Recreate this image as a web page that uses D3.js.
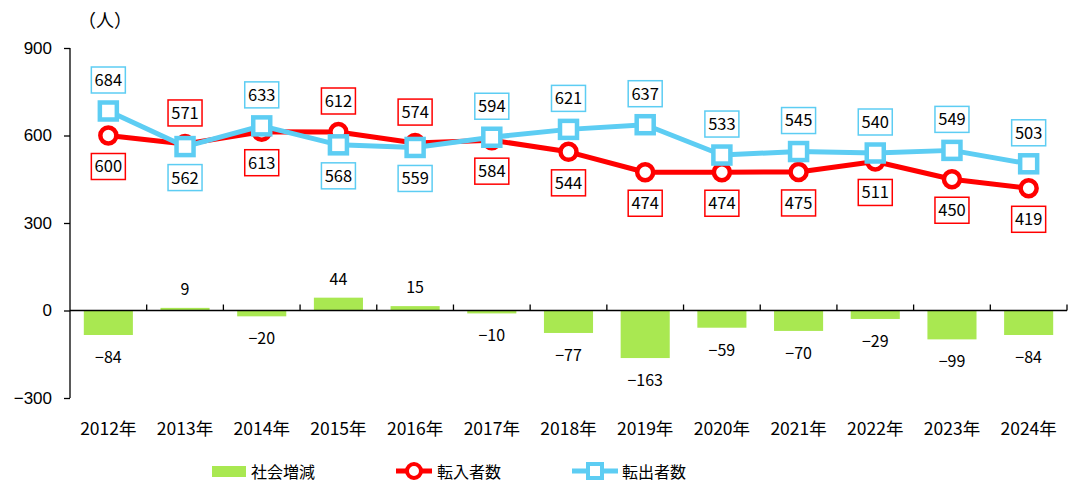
<!DOCTYPE html>
<html lang="ja">
<head>
<meta charset="UTF-8">
<title>社会増減</title>
<script src="https://cdn.jsdelivr.net/npm/d3@7"></script>
<style>
    body {margin: 0; background: #fff; overflow: hidden;}
    svg {display: block;}
    .jp {font-family: "Noto Sans CJK JP", "Noto Sans", sans-serif;}
</style>
</head>
<body>
<svg id="chart" width="1075" height="485"></svg>
<script>
    var years = ['2012年', '2013年', '2014年', '2015年', '2016年', '2017年', '2018年',
                 '2019年', '2020年', '2021年', '2022年', '2023年', '2024年'];
    var netChange = [-84, 9, -20, 44, 15, -10, -77, -163, -59, -70, -29, -99, -84];
    var movedIn = [600, 571, 613, 612, 574, 584, 544, 474, 474, 475, 511, 450, 419];
    var movedOut = [684, 562, 633, 568, 559, 594, 621, 637, 533, 545, 540, 549, 503];
    var yTicks = [900, 600, 300, 0, -300];

    var RED = '#ff0000', BLUE = '#5dcdf3', GREEN = '#a9e851';

    var svg = d3.select('#chart');
    var x = d3.scaleBand().domain(years).range([70, 1067]).paddingInner(0.36).paddingOuter(0.18);
    var xb = d3.scaleBand().domain(years).range([70, 1067]);
    var y = d3.scaleLinear().domain([-300, 900]).range([398, 48]);
    var cx = function(i) { return xb(years[i]) + xb.bandwidth() / 2; };

    // bars
    svg.append('g').selectAll('rect').data(netChange).enter().append('rect')
        .attr('x', function(d, i) { return x(years[i]); })
        .attr('width', x.bandwidth())
        .attr('y', function(d) { return y(Math.max(d, 0)); })
        .attr('height', function(d) { return Math.abs(y(d) - y(0)); })
        .attr('fill', GREEN);

    svg.append('g').attr('class', 'jp').selectAll('text').data(netChange).enter().append('text')
        .attr('x', function(d, i) { return cx(i); })
        .attr('y', function(d) { return d < 0 ? y(d) + 28 : y(d) - 13; })
        .attr('text-anchor', 'middle')
        .attr('font-size', 16)
        .attr('fill', '#000')
        .text(function(d) { return d < 0 ? '\u2212' + Math.abs(d) : d; });

    // y axis
    var yAxis = svg.append('g').attr('transform', 'translate(70,0)')
        .call(d3.axisLeft(y).tickValues(yTicks).tickSize(6).tickFormat(function(d) {
            return d < 0 ? '\u2212' + Math.abs(d) : d;
        }));
    yAxis.select('.domain').attr('stroke', '#000').attr('stroke-width', 1.3)
        .attr('d', 'M0,' + y(900) + 'V' + y(-300));
    yAxis.selectAll('.tick line').attr('stroke', '#000').attr('stroke-width', 1.3);
    yAxis.selectAll('.tick text').attr('x', -18).attr('font-size', 17)
        .attr('font-family', '"Liberation Sans", Arial, sans-serif').attr('fill', '#000');

    // zero line with category ticks
    var xAxis = svg.append('g').attr('transform', 'translate(0,' + y(0) + ')');
    xAxis.append('line').attr('x1', 70).attr('x2', 1067).attr('stroke', '#000').attr('stroke-width', 1.3);
    xAxis.selectAll('.ct').data(d3.range(1, 14)).enter().append('line')
        .attr('x1', function(k) { return xb.range()[0] + k * xb.bandwidth(); })
        .attr('x2', function(k) { return xb.range()[0] + k * xb.bandwidth(); })
        .attr('y1', -6).attr('y2', 0)
        .attr('stroke', '#000').attr('stroke-width', 1.3);

    // category labels
    svg.append('g').attr('class', 'jp').selectAll('text').data(years).enter().append('text')
        .attr('x', function(d, i) { return cx(i); })
        .attr('y', 435)
        .attr('text-anchor', 'middle')
        .attr('font-size', 17.5)
        .attr('fill', '#000')
        .text(function(d) { return d; });

    svg.append('text').attr('class', 'jp').attr('x', 78).attr('y', 27)
        .attr('font-size', 18).text('（人）');

    // lines
    var line = d3.line().x(function(d, i) { return cx(i); }).y(function(d) { return y(d); });

    svg.append('path').datum(movedIn).attr('d', line)
        .attr('fill', 'none').attr('stroke', RED).attr('stroke-width', 5).attr('stroke-linejoin', 'round');
    svg.append('g').selectAll('circle').data(movedIn).enter().append('circle')
        .attr('cx', function(d, i) { return cx(i); })
        .attr('cy', function(d) { return y(d); })
        .attr('r', 8)
        .attr('fill', '#fff').attr('stroke', RED).attr('stroke-width', 4.5);

    svg.append('path').datum(movedOut).attr('d', line)
        .attr('fill', 'none').attr('stroke', BLUE).attr('stroke-width', 5).attr('stroke-linejoin', 'round');
    svg.append('g').selectAll('rect').data(movedOut).enter().append('rect')
        .attr('x', function(d, i) { return cx(i) - 8.5; })
        .attr('y', function(d) { return y(d) - 8.5; })
        .attr('width', 17).attr('height', 17)
        .attr('fill', '#fff').attr('stroke', BLUE).attr('stroke-width', 4.5);

    // boxed value labels: the higher series above, the lower below
    function boxLabels(values, other, color) {
        var g = svg.append('g').attr('class', 'jp');
        values.forEach(function(v, i) {
            var above = v > other[i];
            var cy = y(v) + (above ? -31 : 31);
            var lg = g.append('g').attr('transform', 'translate(' + cx(i) + ',' + cy + ')');
            lg.append('rect').attr('x', -17).attr('y', -13).attr('width', 34).attr('height', 26)
                .attr('fill', '#fff').attr('stroke', color).attr('stroke-width', 1.5);
            lg.append('text').attr('text-anchor', 'middle').attr('dy', '0.36em')
                .attr('font-size', 16.5).attr('fill', '#000').text(v);
        });
    }
    boxLabels(movedIn, movedOut, RED);
    boxLabels(movedOut, movedIn, BLUE);

    // legend
    var lg = svg.append('g').attr('class', 'jp');
    lg.append('rect').attr('x', 212).attr('y', 466).attr('width', 34).attr('height', 11).attr('fill', GREEN);
    lg.append('text').attr('x', 251).attr('y', 478).attr('font-size', 16).text('社会増減');
    lg.append('line').attr('x1', 396).attr('x2', 432).attr('y1', 471).attr('y2', 471)
        .attr('stroke', RED).attr('stroke-width', 5);
    lg.append('circle').attr('cx', 414).attr('cy', 471).attr('r', 7)
        .attr('fill', '#fff').attr('stroke', RED).attr('stroke-width', 4);
    lg.append('text').attr('x', 437).attr('y', 478).attr('font-size', 16).text('転入者数');
    lg.append('line').attr('x1', 572).attr('x2', 618).attr('y1', 471).attr('y2', 471)
        .attr('stroke', BLUE).attr('stroke-width', 5);
    lg.append('rect').attr('x', 588).attr('y', 464).attr('width', 14).attr('height', 14)
        .attr('fill', '#fff').attr('stroke', BLUE).attr('stroke-width', 4);
    lg.append('text').attr('x', 622).attr('y', 478).attr('font-size', 16).text('転出者数');
</script>
</body>
</html>
